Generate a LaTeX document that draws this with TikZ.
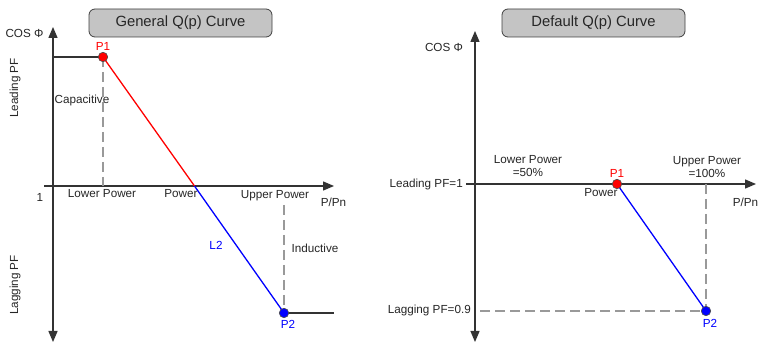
\documentclass[tikz,border=0pt]{standalone}
\usepackage{fontspec}
\setmainfont{Liberation Sans}
\usetikzlibrary{arrows.meta}
\begin{document}
\begin{tikzpicture}[x=1pt,y=-1pt,
  axis/.style={line width=1.3pt, draw=black!80, {Triangle[length=11pt,width=9pt]}-{Triangle[length=11pt,width=9pt]}},
  xaxis/.style={line width=1.3pt, draw=black!80, -{Triangle[length=11pt,width=9pt]}},
  lbl/.style={font=\fontsize{11.7}{13.5}\selectfont, inner sep=0pt, text=black!85},
  ttl/.style={draw=black!75, fill=black!23, rounded corners=6pt, line width=0.8pt, minimum width=183pt, minimum height=28pt, font=\fontsize{14.8}{16}\selectfont, text=black!85},
  dotred/.style={circle, draw=black!70, fill=red, line width=0.6pt, minimum size=9.5pt, inner sep=0pt},
  dotblue/.style={circle, draw=black!70, fill=blue, line width=0.6pt, minimum size=9.5pt, inner sep=0pt},
  guide/.style={draw=black!40, line width=1.3pt, dash pattern=on 10pt off 5pt},
  flat/.style={draw=black!80, line width=1.3pt},
  redline/.style={draw=red, line width=1.3pt},
  blueline/.style={draw=blue, line width=1.3pt}]
\useasboundingbox (0,0) rectangle (761,344);

% ---------- left chart ----------
\node[ttl] (t1) at (180.5,23) {General Q(p) Curve};
\coordinate (ly1) at (53,27);
\coordinate (ly2) at (53,342);
\coordinate (lx1) at (44,186);
\coordinate (lx2) at (334,186);
\draw[axis] (ly2) -- (ly1);
\draw[xaxis] (lx1) -- (lx2);
\coordinate (lh) at (53,57);
\coordinate (lp1) at (103,57);
\coordinate (lp1b) at (103,186);
\coordinate (lpw) at (194.5,186);
\coordinate (lp2) at (284,313);
\coordinate (lp2t) at (284,205);
\coordinate (lh2) at (334,313);
\draw[guide] (lp1) -- (lp1b);
\draw[guide] (lp2t) -- (lp2);
\draw[flat] (lh) -- (lp1);
\draw[flat] (lp2) -- (lh2);
\draw[redline] (lp1) -- (lpw);
\draw[blueline] (lpw) -- (lp2);
\node[dotred] (P1a) at (lp1) {};
\node[dotblue] (P2a) at (lp2) {};
\node[lbl] (cosa) at (24.5,33) {COS Φ};
\node[lbl, text=red] (p1a) at (103,46) {P1};
\node[lbl, text=blue] (p2a) at (288,324) {P2};
\node[lbl, rotate=90] (leada) at (15,88) {Leading PF};
\node[lbl, rotate=90] (laga) at (15,285) {Lagging PF};
\node[lbl] (capa) at (82,100) {Capacitive};
\node[lbl] (onea) at (40,197) {1};
\node[lbl] (lowa) at (102,193.5) {Lower Power};
\node[lbl] (powa) at (181,193.5) {Power};
\node[lbl] (upa) at (275,196) {Upper Power};
\node[lbl] (ppa) at (333.5,202.5) {P/Pn};
\node[lbl, text=blue] (l2a) at (216,245) {L2};
\node[lbl] (inda) at (315,248) {Inductive};

% ---------- right chart ----------
\node[ttl] (t2) at (593.5,23) {Default Q(p) Curve};
\coordinate (ry1) at (475,31);
\coordinate (ry2) at (475,342);
\coordinate (rx1) at (466,184);
\coordinate (rx2) at (756,184);
\draw[axis] (ry2) -- (ry1);
\draw[xaxis] (rx1) -- (rx2);
\coordinate (rp1) at (617,184);
\coordinate (rp2) at (706,311);
\coordinate (rvt) at (706,184);
\coordinate (rhl) at (480,311);
\draw[guide] (rvt) -- (rp2);
\draw[guide] (rhl) -- (rp2);
\draw[blueline] (rp1) -- (rp2);
\node[dotred] (P1b) at (rp1) {};
\node[dotblue] (P2b) at (rp2) {};
\node[lbl] (cosb) at (444,47) {COS Φ};
\node[lbl, text=red] (p1b) at (617,173.5) {P1};
\node[lbl, text=blue] (p2b) at (710,323.5) {P2};
\node[lbl] (powb) at (601,192.5) {Power};
\node[lbl, align=center] (lowb) at (528,166) {Lower Power\\=50\%};
\node[lbl, align=center] (upb) at (707,167) {Upper Power\\=100\%};
\node[lbl, anchor=east] (leadb) at (463,184.5) {Leading PF=1};
\node[lbl, anchor=east] (lagb) at (471,310.5) {Lagging PF=0.9};
\node[lbl] (ppb) at (745.5,202.5) {P/Pn};
\end{tikzpicture}
\end{document}
